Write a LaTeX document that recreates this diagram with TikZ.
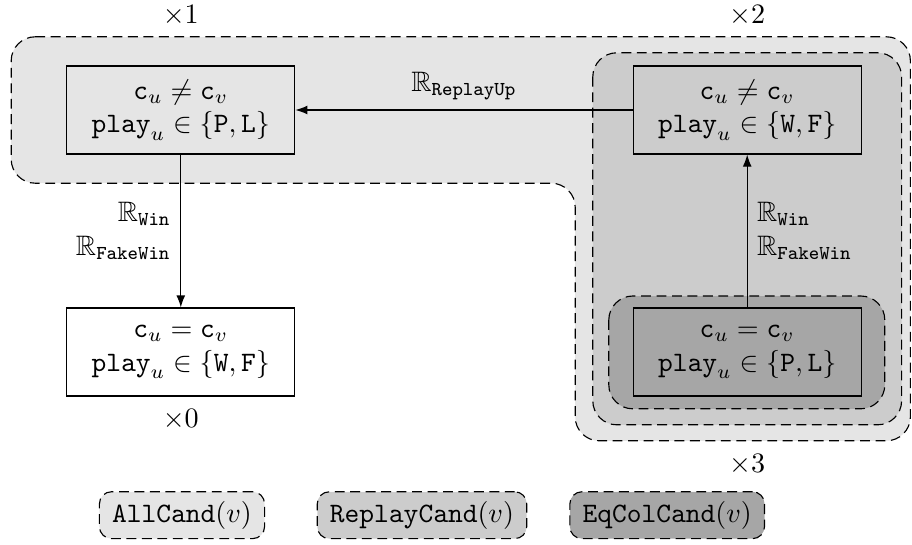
\documentclass[tikz,border=0pt]{standalone}
\usepackage{amssymb}
\usetikzlibrary{arrows.meta, positioning}

\colorlet{allcol}{gray!20}
\colorlet{replaycol}{gray!40}
\colorlet{eqcol}{black!35}

\begin{document}
\begin{tikzpicture}[
    state/.style={rectangle, draw, minimum width=2.85cm, minimum height=1.1cm, align=center},
    trans/.style={-{Latex[length=1.5mm, width=1.1mm]}},
    region/.style={draw, dash pattern=on 3.5pt off 2pt, rounded corners=0.3cm},
    legend/.style={rectangle, draw, dash pattern=on 3.5pt off 2pt, rounded corners=0.15cm,
        inner xsep=4.5pt, minimum height=0.575cm}]

    \useasboundingbox (0,0) rectangle (11.4,-6.8125);

    % Candidate regions
    \draw[region, fill=allcol] (0.14,-0.46) -- (11.38,-0.46) -- (11.38,-5.51)
        -- (7.19,-5.51) -- (7.19,-2.29) -- (0.14,-2.29) -- cycle;
    \draw[region, fill=replaycol] (7.41,-0.66) rectangle (11.27,-5.31);
    \draw[region, fill=eqcol] (7.61,-3.70) rectangle (11.06,-5.11);

    % States
    \node[state] (neqPL) at (2.26,-1.375)
        {$\mathtt{c}_u \neq \mathtt{c}_v$\\ $\mathtt{play}_u \in \{\mathtt{P},\mathtt{L}\}$};
    \node[state] (neqWF) at (9.34,-1.375)
        {$\mathtt{c}_u \neq \mathtt{c}_v$\\ $\mathtt{play}_u \in \{\mathtt{W},\mathtt{F}\}$};
    \node[state] (eqWF) at (2.26,-4.40)
        {$\mathtt{c}_u = \mathtt{c}_v$\\ $\mathtt{play}_u \in \{\mathtt{W},\mathtt{F}\}$};
    \node[state] (eqPL) at (9.34,-4.40)
        {$\mathtt{c}_u = \mathtt{c}_v$\\ $\mathtt{play}_u \in \{\mathtt{P},\mathtt{L}\}$};

    % Multiplicities
    \node (m1) at (2.26,-0.2) {$\times 1$};
    \node (m2) at (9.34,-0.2) {$\times 2$};
    \node (m0) at (2.26,-5.25) {$\times 0$};
    \node (m3) at (9.34,-5.81) {$\times 3$};

    % Transitions
    \draw[trans] (neqWF) -- node[above] {$\mathbb{R}_{\mathtt{ReplayUp}}$} (neqPL);
    \draw[trans] (neqPL) -- node[left, align=right] {$\mathbb{R}_{\mathtt{Win}}$\\ $\mathbb{R}_{\mathtt{FakeWin}}$} (eqWF);
    \draw[trans] (eqPL) -- node[right, align=left] {$\mathbb{R}_{\mathtt{Win}}$\\ $\mathbb{R}_{\mathtt{FakeWin}}$} (neqWF);

    % Legend
    \node[legend, fill=allcol] (allcand) at (2.275,-6.44) {$\mathtt{AllCand}(v)$};
    \node[legend, fill=replaycol] (replaycand) at (5.275,-6.44) {$\mathtt{ReplayCand}(v)$};
    \node[legend, fill=eqcol] (eqcolcand) at (8.34,-6.44) {$\mathtt{EqColCand}(v)$};

\end{tikzpicture}
\end{document}
